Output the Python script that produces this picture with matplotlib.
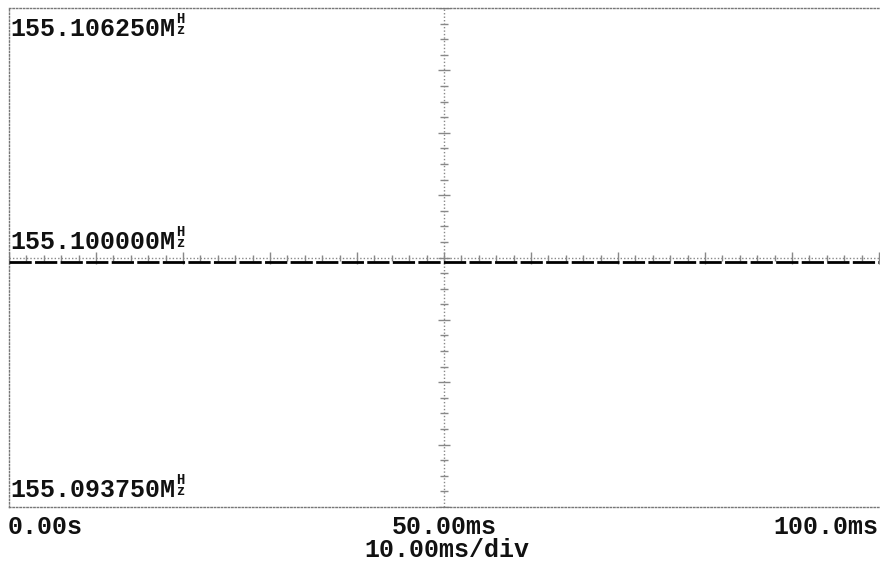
import matplotlib
matplotlib.use("Agg")
import matplotlib.pyplot as plt
import numpy as np

# ---- data ----
time_ms = [0, 10, 20, 30, 40, 50, 60, 70, 80, 90, 100]
freq_mhz = [155.099875] * 11
x_min, x_max = 0.0, 100.0
y_min, y_max = 155.093750, 155.106250
y_center = 155.100000
y_labels = ["155.106250M", "155.100000M", "155.093750M"]
unit_stack = "H\nz"
x_labels = ["0.00s", "50.00ms", "100.0ms"]
scale_label = "10.00ms/div"

W, H = 880, 567
fig = plt.figure(figsize=(W / 100, H / 100), dpi=100)
fig.patch.set_facecolor("white")
L, R, T, B = 9, 879, 8, 507
ax = fig.add_axes([L / W, 1 - B / H, (R - L) / W, (B - T) / H])
ax.set_xlim(x_min, x_max)
ax.set_ylim(y_min, y_max)
ax.set_xticks([])
ax.set_yticks([])
for s in ["top", "left", "bottom"]:
    ax.spines[s].set_linestyle((0, (1, 1.5)))
    ax.spines[s].set_color("#777777")
    ax.spines[s].set_linewidth(1.0)
ax.spines["right"].set_visible(False)

gcol = "#888888"
xdiv = (x_max - x_min) / 10
ydiv = (y_max - y_min) / 8
# center graticule lines
ax.axhline(y_center, color=gcol, lw=1.0, ls=(0, (1, 1.5)), zorder=1)
ax.axvline(50, color=gcol, lw=1.0, ls=(0, (1, 1.5)), zorder=1)
# ticks on horizontal center
minor_x = np.arange(x_min, x_max + 1e-9, xdiv / 5)
for xv in minor_x:
    major = abs((xv / xdiv) - round(xv / xdiv)) < 1e-6
    ax.plot([xv], [y_center], marker="|", markersize=8 if major else 5,
            color=gcol, mew=1.0, zorder=1)
# ticks on vertical center
minor_y = np.arange(y_min, y_max + 1e-12, ydiv / 4)
for i, yv in enumerate(minor_y):
    major = i % 4 == 0
    ax.plot([50], [yv], marker="_", markersize=9 if major else 6,
            color=gcol, mew=1.0, zorder=1)

# trace
ax.plot(time_ms, freq_mhz, color="black", lw=2.0, ls=(0, (8, 1.2)), zorder=3)

fp = dict(family=["Liberation Mono", "DejaVu Sans Mono"], weight="bold")
fs = 18
tcol = "#111111"
# baselines in pixels from top
label_baselines = [36, 249, 497]
texts = []
for lab, yb in zip(y_labels, label_baselines):
    t = fig.text(10 / W, 1 - yb / H, lab, ha="left", va="baseline",
                 fontsize=fs, color=tcol, zorder=5, **fp)
    texts.append(t)

fig.canvas.draw()
r = fig.canvas.get_renderer()
for t, yb in zip(texts, label_baselines):
    bb = t.get_window_extent(r)
    fig.text((bb.x1 + 1) / W, 1 - (yb + 1) / H, unit_stack, fontsize=10,
             ha="left", va="bottom", linespacing=0.72, color=tcol,
             multialignment="center", **fp)

fig.text(8 / W, 1 - 534 / H, x_labels[0], ha="left", va="baseline",
         fontsize=fs, color=tcol, **fp)
fig.text(444 / W, 1 - 534 / H, x_labels[1], ha="center", va="baseline",
         fontsize=fs, color=tcol, **fp)
fig.text(878 / W, 1 - 534 / H, x_labels[2], ha="right", va="baseline",
         fontsize=fs, color=tcol, **fp)
fig.text(447 / W, 1 - 557 / H, scale_label, ha="center", va="baseline",
         fontsize=fs, color=tcol, **fp)

fig.savefig("out.png", dpi=100, facecolor="white")
